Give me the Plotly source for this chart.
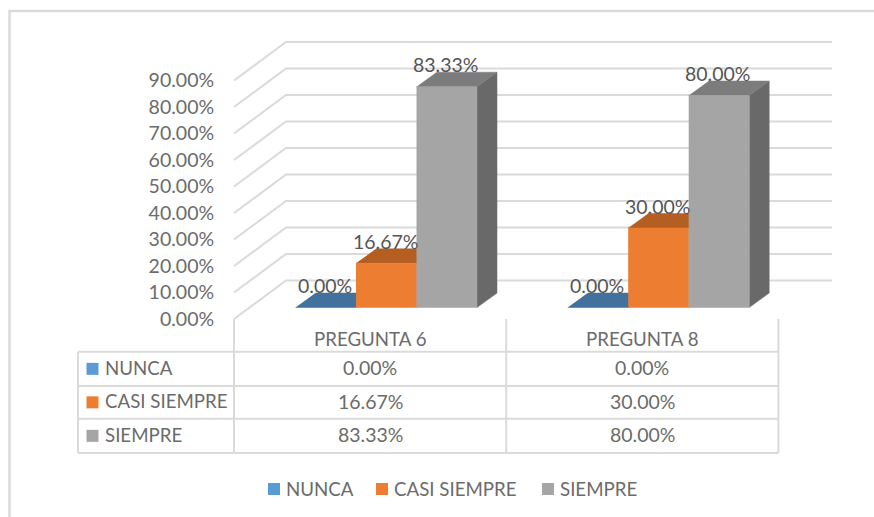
import plotly.graph_objects as go

# ---- data ----
categories = ["PREGUNTA 6", "PREGUNTA 8"]
series_names = ["NUNCA", "CASI SIEMPRE", "SIEMPRE"]
nunca = [0.0, 0.0]
casi_siempre = [16.67, 30.0]
siempre = [83.33, 80.0]
y_ticks = [0, 10, 20, 30, 40, 50, 60, 70, 80, 90]
y_tick_labels = ["0.00%", "10.00%", "20.00%", "30.00%", "40.00%", "50.00%", "60.00%", "70.00%", "80.00%", "90.00%"]

# ---- style ----
series_values = [nunca, casi_siempre, siempre]
FRONT = ["#5B9BD5", "#ED7D31", "#A5A5A5"]
TOP = ["#41719C", "#B45E22", "#7C7C7C"]
SIDE = ["#41719C", "#B45E22", "#696969"]
LEGEND_COL = ["#5B9BD5", "#ED7D31", "#A5A5A5"]
GRID = "#DADADA"
TXT = "#6B6B6B"
FONT = "Lato"
FS_NUM = 19.5
FS_CAP = 18.7

W, H = 874, 517
CAT_PX = 272.2      # pixels per category
VAL_PX = 2.65       # pixels per percent
X0_PX, Y0_PX = 234.0, 319.0   # front-plane origin

x_range = [-X0_PX / CAT_PX, (W - X0_PX) / CAT_PX]
y_range = [(Y0_PX - H) / VAL_PX, Y0_PX / VAL_PX]

def px_x(p): return (p - X0_PX) / CAT_PX
def px_y(p): return (Y0_PX - p) / VAL_PX
WALL_DX, WALL_DY = 52 / CAT_PX, 38.5 / VAL_PX
BAR_DX, BAR_DY = 20 / CAT_PX, 14.5 / VAL_PX
BAR_W = 60.5 / CAT_PX
BAR_BASE = px_y(307.5)
GROUP_START = px_x(295.5)

fig = go.Figure()

def line(xs, ys, color=GRID, width=2):
    fig.add_trace(go.Scatter(x=xs, y=ys, mode="lines", line=dict(color=color, width=width),
                             hoverinfo="skip", showlegend=False))

def poly(xs, ys, color):
    fig.add_trace(go.Scatter(x=xs, y=ys, mode="lines", fill="toself", fillcolor=color,
                             line=dict(color=color, width=0.5), hoverinfo="skip", showlegend=False))

# walls
x_right = px_x(832)
for t in y_ticks:
    line([0, WALL_DX, x_right], [t, t + WALL_DY, t + WALL_DY])

# bars
for c in range(len(categories)):
    for s, vals in enumerate(series_values):
        v = vals[c]
        x0 = c + GROUP_START + s * BAR_W
        x1 = x0 + BAR_W
        top = BAR_BASE + v
        poly([x1, x1 + BAR_DX, x1 + BAR_DX, x1],
             [BAR_BASE, BAR_BASE + BAR_DY, top + BAR_DY, top], SIDE[s])
        poly([x0, x1, x1 + BAR_DX, x0 + BAR_DX],
             [top, top, top + BAR_DY, top + BAR_DY], TOP[s])
        if v > 0:
            poly([x0, x1, x1, x0], [BAR_BASE, BAR_BASE, top, top], FRONT[s])

annotations = []
for c in range(len(categories)):
    for s, vals in enumerate(series_values):
        v = vals[c]
        annotations.append(dict(
            x=c + GROUP_START + (s + 0.5) * BAR_W - 1 / CAT_PX, y=BAR_BASE + v, xref="x", yref="y",
            text=f"{v:.2f}%", showarrow=False, yshift=22,
            font=dict(family=FONT, size=FS_NUM, color="#555555")))

# data table
row_px = (351.7, 386, 418.7, 453)
row_y = [px_y(p) for p in row_px]
table_left = px_x(78)
for y in row_y:
    line([table_left, len(categories)], [y, y])
line([table_left, table_left], [row_y[0], row_y[-1]])
for c in range(len(categories) + 1):
    line([c, c], [0, row_y[-1]])

for c, name in enumerate(categories):
    annotations.append(dict(x=c + 0.5, y=px_y(339), text=name, showarrow=False, xref="x", yref="y",
                            font=dict(family=FONT, size=FS_CAP, color=TXT)))
for s, name in enumerate(series_names):
    yc = (row_y[s] + row_y[s + 1]) / 2
    fig.add_trace(go.Scatter(x=[px_x(92.5)], y=[yc], mode="markers",
                             marker=dict(symbol="square", size=12, color=LEGEND_COL[s], line=dict(width=0)),
                             hoverinfo="skip", showlegend=False))
    annotations.append(dict(x=px_x(102.5), y=yc, text=name, showarrow=False, xanchor="left",
                            xref="x", yref="y", yshift=1, font=dict(family=FONT, size=FS_CAP, color=TXT)))
    for c in range(len(categories)):
        annotations.append(dict(x=c + 0.5, y=yc, text=f"{series_values[s][c]:.2f}%", showarrow=False,
                                xref="x", yref="y", yshift=1, font=dict(family=FONT, size=FS_NUM, color=TXT)))

# legend row
legend_key_px = [274, 382, 548]
for s, name in enumerate(series_names):
    fig.add_trace(go.Scatter(x=[px_x(legend_key_px[s])], y=[px_y(489)], mode="markers", name=name,
                             marker=dict(symbol="square", size=12, color=LEGEND_COL[s], line=dict(width=0)),
                             hoverinfo="skip", showlegend=False))
    annotations.append(dict(x=px_x(legend_key_px[s] + 10), y=px_y(489), text=name, showarrow=False,
                            xanchor="left", xref="x", yref="y",
                            font=dict(family=FONT, size=FS_CAP, color=TXT)))

# frame of the picture
line([px_x(9.5), px_x(9.5), px_x(874)], [px_y(517), px_y(11), px_y(11)], width=2.5)

fig.update_layout(
    width=W, height=H, margin=dict(l=0, r=0, t=0, b=0), autosize=False,
    paper_bgcolor="white", plot_bgcolor="white", showlegend=False,
    font=dict(family=FONT, size=FS_NUM, color=TXT),
    xaxis=dict(range=x_range, visible=False, domain=[0, 1]),
    yaxis=dict(range=y_range, domain=[0, 1], anchor="free", position=X0_PX / W, side="left",
               tickvals=y_ticks, ticktext=y_tick_labels, showgrid=False, zeroline=False, showline=False,
               ticks="outside", ticklen=16, tickcolor="rgba(0,0,0,0)",
               tickfont=dict(family=FONT, size=FS_NUM, color=TXT)),
    annotations=annotations,
)

fig.write_html("out.html", config={"displayModeBar": False},
               post_script="document.body.style.margin='0';document.body.style.overflow='hidden';")
